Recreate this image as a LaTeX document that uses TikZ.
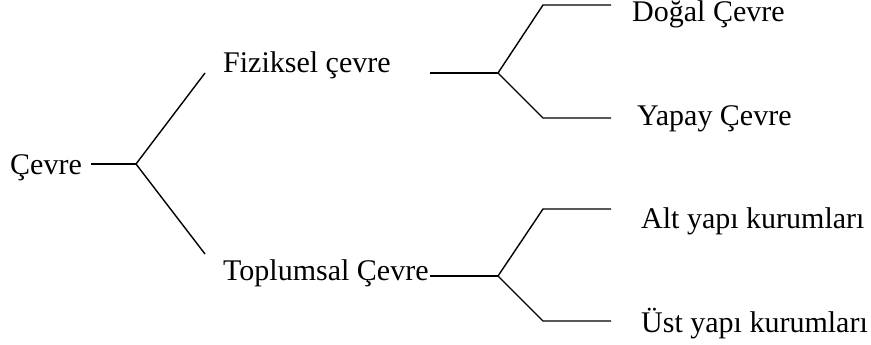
\documentclass[tikz,border=0pt]{standalone}
\usepackage{fontspec}
\setmainfont{Liberation Serif}
\begin{document}
\begin{tikzpicture}[x=1pt,y=-1pt,
  lbl/.style={anchor=base west,inner sep=0pt,font=\fontsize{30}{33}\selectfont},
  conn/.style={line width=1.4pt}]
\useasboundingbox (0,0) rectangle (871,345);
% labels
\node[lbl] (cevre) at (10,175) {Çevre};
\node[lbl] (fiz) at (223,73) {Fiziksel çevre};
\node[lbl] (top) at (223,280) {Toplumsal Çevre};
\node[lbl] (dog) at (632,22) {Doğal Çevre};
\node[lbl] (yap) at (637,125) {Yapay Çevre};
\node[lbl] (alt) at (641,228) {Alt yapı kurumları};
\node[lbl] (ust) at (641,332) {Üst yapı kurumları};
% coordinates
\coordinate (c0) at (91,164);
\coordinate (b0) at (136,164);
\coordinate (f0) at (205,73);
\coordinate (t0) at (205,254);
\coordinate (f1) at (430,73);
\coordinate (bf) at (498,73);
\coordinate (d0) at (543,5);
\coordinate (d1) at (611,5);
\coordinate (y0) at (543,118);
\coordinate (y1) at (611,118);
\coordinate (t1) at (430,276);
\coordinate (bt) at (498,276);
\coordinate (a0) at (543,209);
\coordinate (a1) at (611,209);
\coordinate (u0) at (543,321);
\coordinate (u1) at (611,321);
% connectors
\draw[conn] (c0) -- (b0);
\draw[conn] (b0) -- (f0);
\draw[conn] (b0) -- (t0);
\draw[conn] (f1) -- (bf);
\draw[conn] (bf) -- (d0) -- (d1);
\draw[conn] (bf) -- (y0) -- (y1);
\draw[conn] (t1) -- (bt);
\draw[conn] (bt) -- (a0) -- (a1);
\draw[conn] (bt) -- (u0) -- (u1);
\end{tikzpicture}
\end{document}
